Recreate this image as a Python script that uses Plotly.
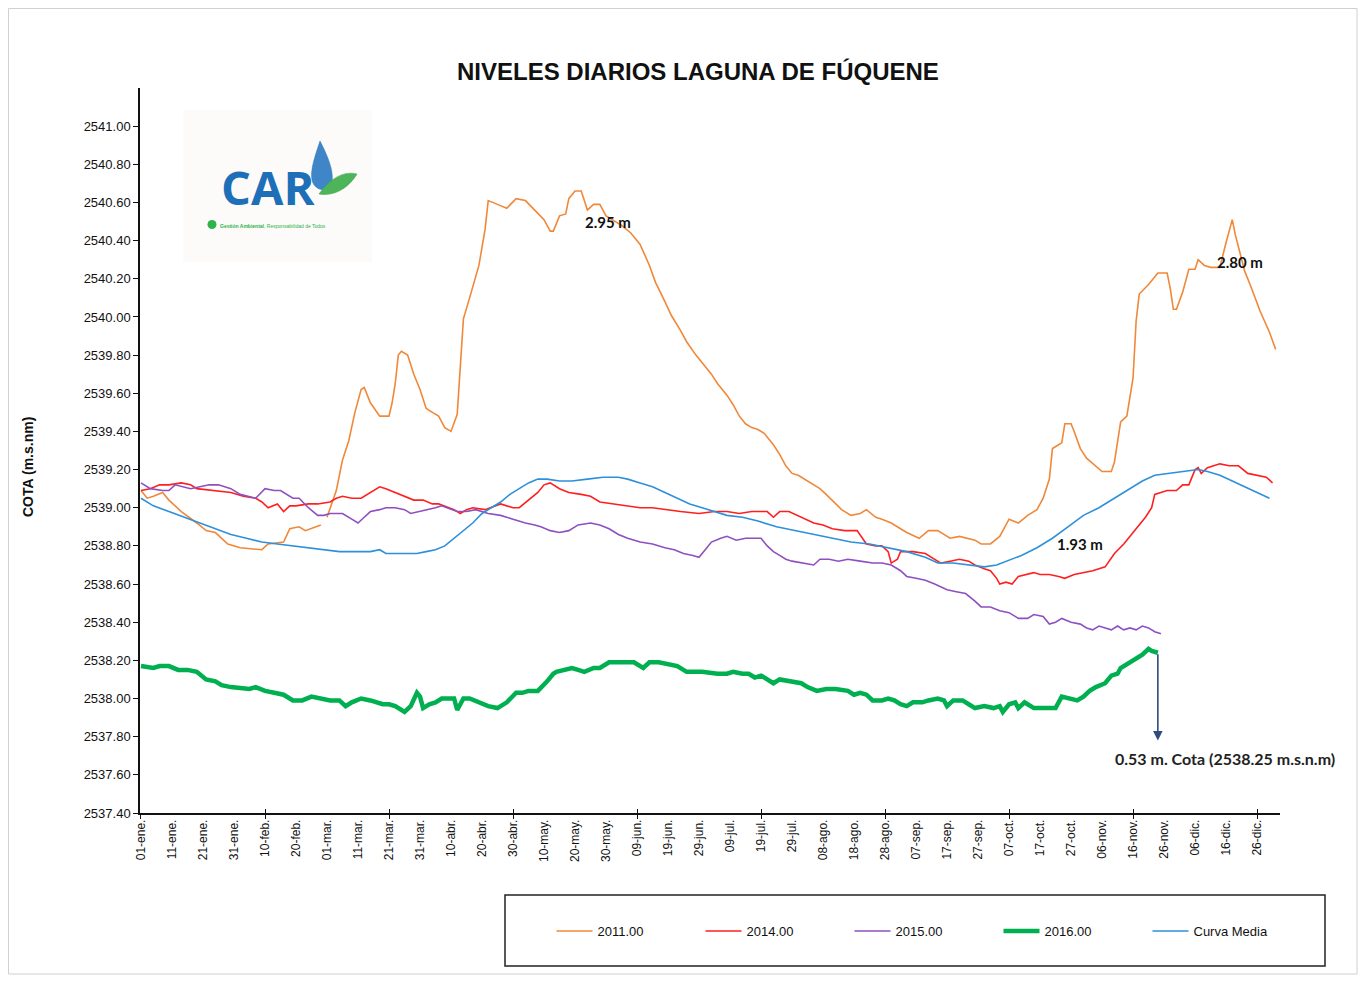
import plotly.graph_objects as go

# ---------------- data ----------------
tick_days = list(range(1, 362, 10))
tick_text = ["01-ene.", "11-ene.", "21-ene.", "31-ene.", "10-feb.", "20-feb.", "01-mar.", "11-mar.",
             "21-mar.", "31-mar.", "10-abr.", "20-abr.", "30-abr.", "10-may.", "20-may.", "30-may.",
             "09-jun.", "19-jun.", "29-jun.", "09-jul.", "19-jul.", "29-jul.", "08-ago.", "18-ago.",
             "28-ago.", "07-sep.", "17-sep.", "27-sep.", "07-oct.", "17-oct.", "27-oct.", "06-nov.",
             "16-nov.", "26-nov.", "06-dic.", "16-dic.", "26-dic."]
y_ticks = [round(2537.4 + 0.2 * i, 2) for i in range(19)]

d2011 = [1, 3, 5, 8, 10, 14, 19, 22, 25, 29, 33, 40, 42, 47, 49, 52, 54, 59, None,
         61, 64, 66, 68, 70, 71, 72, 73, 75, 78, 81, 82, 83, 84, 85, 87, 89, 91, 93, 95, 97, 99, 101, 103,
         105, 107, 110, 112, 113, 116, 119, 122, 125, 128, 131, 133, 134, 136, 138, 139, 141, 143, 145,
         147, 149, 151, 156, 159, 162, 165, 167, 170, 172, 175, 177, 180, 182, 185, 187, 190, 192, 194,
         196, 198, 200, 202, 205, 207, 209, 211, 213, 217, 220, 222, 224, 227, 230, 233, 235, 238, 240,
         243, 246, 248, 252, 255, 258, 262, 265, 268, 270, 272, 275, 278, 281, 284, 287, 290, 292, 294,
         295, 297, 298, 299, 301, 302, 304, 306, 309, 311, 314, 315, 317, 319, 321, 322, 323, 326, 329,
         332, 333, 334, 335, 337, 339, 341, 342, 344, 346, 349, 351, 353, 354, 357, 359, 362, 365, 367]
v2011 = [2539.09, 2539.05, 2539.06, 2539.08, 2539.04, 2538.98, 2538.92, 2538.88, 2538.87, 2538.81,
         2538.79, 2538.78, 2538.81, 2538.82, 2538.89, 2538.90, 2538.88, 2538.91, None,
         2538.95, 2539.09, 2539.25, 2539.35, 2539.50, 2539.56, 2539.62, 2539.63, 2539.55, 2539.48,
         2539.48, 2539.55, 2539.65, 2539.80, 2539.82, 2539.80, 2539.70, 2539.62, 2539.52, 2539.50,
         2539.48, 2539.42, 2539.40, 2539.49, 2539.99, 2540.10, 2540.27, 2540.46, 2540.61, 2540.59,
         2540.57, 2540.62, 2540.61, 2540.56, 2540.51, 2540.45, 2540.45, 2540.53, 2540.54, 2540.62,
         2540.66, 2540.66, 2540.56, 2540.59, 2540.59, 2540.53, 2540.48, 2540.44, 2540.38, 2540.27,
         2540.18, 2540.08, 2540.01, 2539.93, 2539.87, 2539.80, 2539.76, 2539.70, 2539.65, 2539.59,
         2539.54, 2539.48, 2539.44, 2539.42, 2539.41, 2539.39, 2539.33, 2539.28, 2539.22, 2539.18,
         2539.17, 2539.13, 2539.10, 2539.07, 2539.04, 2538.99, 2538.96, 2538.97, 2538.99, 2538.95,
         2538.94, 2538.92, 2538.89, 2538.87, 2538.84, 2538.88, 2538.88, 2538.84, 2538.85, 2538.84,
         2538.83, 2538.81, 2538.81, 2538.85, 2538.94, 2538.92, 2538.96, 2538.99, 2539.05, 2539.15,
         2539.31, 2539.33, 2539.34, 2539.44, 2539.44, 2539.40, 2539.31, 2539.26, 2539.22, 2539.19,
         2539.19, 2539.24, 2539.45, 2539.48, 2539.68, 2539.98, 2540.12, 2540.17, 2540.23, 2540.23,
         2540.15, 2540.04, 2540.04, 2540.13, 2540.25, 2540.25, 2540.30, 2540.27, 2540.26, 2540.26,
         2540.39, 2540.51, 2540.43, 2540.24, 2540.16, 2540.03, 2539.92, 2539.83]

d2014 = [1, 4, 7, 10, 14, 17, 19, 24, 30, 34, 38, 40, 42, 45, 47, 49, 51, 55, 58, 62, 64, 66, 69, 72,
         75, 78, 80, 83, 86, 89, 92, 95, 97, 100, 102, 104, 106, 108, 112, 117, 121, 123, 126, 129, 131,
         133, 136, 139, 143, 146, 149, 153, 157, 162, 166, 170, 175, 181, 186, 190, 194, 198, 200, 203,
         205, 207, 210, 214, 218, 221, 224, 228, 232, 235, 238, 240, 242, 243, 245, 246, 250, 254, 257,
         259, 262, 265, 268, 270, 273, 275, 277, 278, 280, 282, 284, 287, 289, 291, 294, 297, 299, 302,
         305, 308, 312, 315, 318, 321, 323, 325, 327, 328, 330, 332, 335, 337, 339, 341, 342, 343, 345,
         347, 349, 352, 355, 358, 361, 364, 366]
v2014 = [2539.09, 2539.10, 2539.12, 2539.12, 2539.13, 2539.12, 2539.10, 2539.09, 2539.08, 2539.06,
         2539.05, 2539.03, 2539.00, 2539.02, 2538.98, 2539.01, 2539.01, 2539.02, 2539.02, 2539.03,
         2539.05, 2539.06, 2539.05, 2539.05, 2539.08, 2539.11, 2539.10, 2539.08, 2539.06, 2539.04,
         2539.04, 2539.02, 2539.02, 2539.00, 2538.99, 2538.97, 2538.99, 2539.00, 2538.99, 2539.02,
         2539.00, 2539.00, 2539.04, 2539.08, 2539.12, 2539.13, 2539.10, 2539.08, 2539.07, 2539.06,
         2539.03, 2539.02, 2539.01, 2539.00, 2539.00, 2538.99, 2538.98, 2538.97, 2538.98, 2538.98,
         2538.97, 2538.98, 2538.98, 2538.98, 2538.95, 2538.98, 2538.98, 2538.95, 2538.92, 2538.91,
         2538.89, 2538.88, 2538.88, 2538.81, 2538.80, 2538.80, 2538.77, 2538.71, 2538.73, 2538.77,
         2538.77, 2538.76, 2538.73, 2538.71, 2538.72, 2538.73, 2538.72, 2538.70, 2538.68, 2538.67,
         2538.63, 2538.60, 2538.61, 2538.60, 2538.64, 2538.65, 2538.66, 2538.65, 2538.65, 2538.64,
         2538.63, 2538.65, 2538.66, 2538.67, 2538.69, 2538.76, 2538.81, 2538.87, 2538.91, 2538.95,
         2539.00, 2539.07, 2539.08, 2539.09, 2539.09, 2539.12, 2539.12, 2539.20, 2539.21, 2539.18,
         2539.21, 2539.22, 2539.23, 2539.22, 2539.22, 2539.18, 2539.17, 2539.16, 2539.13]

d2015 = [1, 4, 8, 10, 12, 15, 17, 20, 23, 26, 30, 33, 36, 38, 41, 44, 46, 48, 50, 52, 55, 58, 60, 62,
         66, 69, 71, 73, 75, 78, 80, 83, 86, 88, 91, 94, 96, 98, 101, 103, 106, 109, 113, 117, 121, 125,
         128, 130, 133, 136, 139, 142, 146, 149, 152, 155, 158, 162, 166, 170, 173, 176, 179, 181, 183,
         185, 188, 190, 193, 196, 199, 201, 203, 205, 207, 209, 211, 214, 218, 220, 223, 226, 229, 233,
         237, 240, 243, 246, 248, 251, 254, 257, 261, 264, 267, 270, 272, 275, 278, 281, 284, 287, 289,
         292, 294, 296, 298, 301, 304, 306, 308, 310, 312, 314, 316, 318, 320, 322, 324, 326, 328, 330]
v2015 = [2539.13, 2539.10, 2539.09, 2539.09, 2539.12, 2539.11, 2539.10, 2539.11, 2539.12, 2539.12,
         2539.10, 2539.07, 2539.06, 2539.05, 2539.10, 2539.09, 2539.09, 2539.07, 2539.05, 2539.05,
         2539.00, 2538.96, 2538.96, 2538.97, 2538.97, 2538.94, 2538.92, 2538.95, 2538.98, 2538.99,
         2539.00, 2539.00, 2538.99, 2538.97, 2538.98, 2538.99, 2539.00, 2539.01, 2538.99, 2538.98,
         2538.98, 2538.99, 2538.97, 2538.96, 2538.94, 2538.92, 2538.91, 2538.90, 2538.88, 2538.87,
         2538.88, 2538.91, 2538.92, 2538.91, 2538.89, 2538.86, 2538.84, 2538.82, 2538.81, 2538.79,
         2538.78, 2538.76, 2538.75, 2538.74, 2538.78, 2538.82, 2538.84, 2538.85, 2538.83, 2538.84,
         2538.84, 2538.84, 2538.80, 2538.77, 2538.75, 2538.73, 2538.72, 2538.71, 2538.70, 2538.73,
         2538.73, 2538.72, 2538.73, 2538.72, 2538.71, 2538.71, 2538.70, 2538.67, 2538.64, 2538.63,
         2538.62, 2538.60, 2538.57, 2538.56, 2538.55, 2538.51, 2538.48, 2538.48, 2538.46, 2538.45,
         2538.42, 2538.42, 2538.44, 2538.43, 2538.39, 2538.40, 2538.42, 2538.40, 2538.39, 2538.37,
         2538.36, 2538.38, 2538.37, 2538.36, 2538.38, 2538.36, 2538.37, 2538.36, 2538.38, 2538.37,
         2538.35, 2538.34]

d2016 = [1, 5, 7, 10, 13, 16, 19, 22, 25, 27, 30, 34, 36, 38, 41, 44, 47, 50, 53, 56, 59, 62, 65, 67,
         69, 72, 75, 79, 81, 83, 86, 88, 90, 91, 92, 94, 96, 98, 100, 102, 103, 105, 107, 110, 113, 116,
         119, 122, 124, 126, 129, 132, 134, 135, 137, 140, 142, 144, 147, 149, 152, 156, 160, 163, 165,
         168, 171, 174, 177, 182, 187, 190, 192, 195, 197, 199, 201, 203, 205, 207, 210, 214, 216, 219,
         222, 225, 229, 231, 233, 235, 237, 240, 242, 244, 246, 248, 250, 253, 255, 258, 260, 261, 263,
         266, 268, 270, 273, 276, 278, 279, 281, 283, 284, 286, 287, 289, 291, 294, 296, 298, 300, 303,
         305, 307, 309, 311, 312, 314, 316, 317, 319, 320, 322, 324, 326, 327, 329]
v2016 = [2538.17, 2538.16, 2538.17, 2538.17, 2538.15, 2538.15, 2538.14, 2538.10, 2538.09, 2538.07,
         2538.06, 2538.05, 2538.05, 2538.06, 2538.04, 2538.03, 2538.02, 2537.99, 2537.99, 2538.01,
         2538.00, 2537.99, 2537.99, 2537.96, 2537.98, 2538.00, 2537.99, 2537.97, 2537.97, 2537.96,
         2537.93, 2537.96, 2538.03, 2538.01, 2537.95, 2537.97, 2537.98, 2538.00, 2538.00, 2538.00,
         2537.94, 2538.00, 2538.00, 2537.98, 2537.96, 2537.95, 2537.98, 2538.03, 2538.03, 2538.04,
         2538.04, 2538.09, 2538.13, 2538.14, 2538.15, 2538.16, 2538.15, 2538.14, 2538.16, 2538.16,
         2538.19, 2538.19, 2538.19, 2538.16, 2538.19, 2538.19, 2538.18, 2538.17, 2538.14, 2538.14,
         2538.13, 2538.13, 2538.14, 2538.13, 2538.13, 2538.11, 2538.12, 2538.10, 2538.08, 2538.10,
         2538.09, 2538.08, 2538.06, 2538.04, 2538.05, 2538.05, 2538.04, 2538.02, 2538.03, 2538.02,
         2537.99, 2537.99, 2538.00, 2537.99, 2537.97, 2537.96, 2537.98, 2537.98, 2537.99, 2538.00,
         2537.99, 2537.96, 2537.99, 2537.99, 2537.97, 2537.95, 2537.96, 2537.95, 2537.96, 2537.93,
         2537.97, 2537.98, 2537.95, 2537.98, 2537.97, 2537.95, 2537.95, 2537.95, 2537.95, 2538.01,
         2538.00, 2537.99, 2538.01, 2538.04, 2538.06, 2538.07, 2538.08, 2538.12, 2538.13, 2538.16,
         2538.18, 2538.19, 2538.21, 2538.23, 2538.26, 2538.25, 2538.24]

dmedia = [1, 5, 10, 15, 20, 25, 30, 35, 40, 45, 50, 55, 60, 65, 70, 75, 78, 80, 85, 90, 93, 96, 99,
          102, 105, 108, 111, 114, 117, 120, 123, 126, 129, 132, 136, 140, 145, 150, 155, 158, 162, 166,
          170, 174, 178, 182, 186, 190, 195, 200, 206, 212, 218, 224, 230, 236, 242, 248, 254, 258, 263,
          268, 273, 277, 280, 285, 290, 295, 300, 305, 310, 315, 320, 324, 328, 333, 338, 342, 345, 349,
          353, 357, 361, 365]
vmedia = [2539.05, 2539.01, 2538.98, 2538.95, 2538.92, 2538.89, 2538.86, 2538.84, 2538.82, 2538.81,
          2538.80, 2538.79, 2538.78, 2538.77, 2538.77, 2538.77, 2538.78, 2538.76, 2538.76, 2538.76,
          2538.77, 2538.78, 2538.80, 2538.84, 2538.88, 2538.92, 2538.97, 2539.00, 2539.03, 2539.07,
          2539.10, 2539.13, 2539.15, 2539.15, 2539.14, 2539.14, 2539.15, 2539.16, 2539.16, 2539.15,
          2539.13, 2539.11, 2539.08, 2539.05, 2539.02, 2539.00, 2538.98, 2538.96, 2538.95, 2538.93,
          2538.90, 2538.88, 2538.86, 2538.84, 2538.82, 2538.81, 2538.79, 2538.77, 2538.74, 2538.71,
          2538.71, 2538.70, 2538.69, 2538.70, 2538.72, 2538.75, 2538.79, 2538.84, 2538.90, 2538.96,
          2539.00, 2539.05, 2539.10, 2539.14, 2539.17, 2539.18, 2539.19, 2539.20, 2539.19, 2539.17,
          2539.14, 2539.11, 2539.08, 2539.05]

# ---------------- layout helpers (screen pixel -> paper) ----------------
OFF = 8                      # page body margin in the browser
FW, FH = 1366 - 2 * OFF, 983 - 2 * OFF
PL, PR, PT, PB = 140, 1280, 88, 813   # plot area in screen pixels


def px(x):
    return (x - PL) / (PR - PL)


def py(y):
    return (PB - y) / (PB - PT)


def path(cmds):
    out = []
    for c in cmds:
        if isinstance(c, str):
            out.append(c)
        else:
            out.append(f"{px(c[0]):.5f},{py(c[1]):.5f}")
    return " ".join(out)


TXT = "Liberation Sans, Arial, sans-serif"

fig = go.Figure()
series = [
    ("2011.00", d2011, v2011, "#F0883A", 1.6),
    ("2014.00", d2014, v2014, "#FF1F1F", 1.6),
    ("2015.00", d2015, v2015, "#8E4FBF", 1.6),
    ("2016.00", d2016, v2016, "#00B050", 4.5),
    ("Curva Media", dmedia, vmedia, "#2E90DA", 1.6),
]
for name, d, v, col, w in series:
    fig.add_trace(go.Scatter(x=d, y=v, name=name, mode="lines", connectgaps=False,
                             line=dict(color=col, width=w)))

# dummy traces to display the tick-mark axes
fig.add_trace(go.Scatter(x=[1], y=[None], xaxis="x2", showlegend=False, hoverinfo="skip"))
fig.add_trace(go.Scatter(x=[1], y=[None], xaxis="x3", showlegend=False, hoverinfo="skip"))

xr = [0.68, 368.4]
major_days = tick_days[::4]

shapes = [
    # outer chart border
    dict(type="rect", xref="paper", yref="paper", x0=px(8.5), x1=px(1357), y0=py(8.5), y1=py(974),
         line=dict(color="#D0D0D0", width=1), layer="below"),
    # legend box
    dict(type="rect", xref="paper", yref="paper", x0=px(505), x1=px(1325), y0=py(895), y1=py(966),
         line=dict(color="#222222", width=1.5)),
    # logo background
    dict(type="rect", xref="paper", yref="paper", x0=px(183), x1=px(372), y0=py(110), y1=py(262),
         line=dict(width=0), fillcolor="#FCFBF9", layer="below"),
    # water drop
    dict(type="path", xref="paper", yref="paper",
         path=path(["M", (320, 141), "C", (315, 156), (310, 170), (312, 180), "C", (314, 190), (326, 193),
                    (331, 185), "C", (335, 176), (330, 160), (320, 141), "Z"]),
         fillcolor="#3F86C8", line=dict(color="#2F73B5", width=0.5)),
    # leaf
    dict(type="path", xref="paper", yref="paper",
         path=path(["M", (319, 194), "C", (328, 181), (342, 170), (357, 174), "C", (350, 186), (336, 197),
                    (319, 194), "Z"]),
         fillcolor="#4DB45A", line=dict(color="#3DA04A", width=0.5)),
    # green dot
    dict(type="circle", xref="paper", yref="paper", x0=px(207.5), x1=px(216.5), y0=py(220), y1=py(229),
         fillcolor="#2DB34A", line=dict(width=0)),
]

annotations = [
    dict(text="<b>NIVELES DIARIOS LAGUNA DE FÚQUENE</b>", xref="paper", yref="paper",
         x=px(698), y=py(71), showarrow=False, xanchor="center", yanchor="middle",
         font=dict(family="Liberation Sans, Arial, sans-serif", size=24, color="#111111")),
    dict(text="<b>COTA (m.s.nm)</b>", xref="paper", yref="paper", x=px(28), y=py(467),
         textangle=-90, showarrow=False, xanchor="center", yanchor="middle",
         font=dict(family=TXT, size=14, color="#111111")),
    dict(text="<b>CAR</b>", xref="paper", yref="paper", x=px(268), y=py(221), showarrow=False,
         xanchor="center", yanchor="bottom",
         font=dict(family="Open Sans, Liberation Sans, sans-serif", size=47, color="#1D6FB8")),
    dict(text="<b>Gestión Ambiental</b>, Responsabilidad de Todos", xref="paper", yref="paper",
         x=px(218), y=py(221.5), showarrow=False, xanchor="left", yanchor="top",
         font=dict(family="Liberation Sans, sans-serif", size=5, color="#2DB34A")),
    dict(text="<b>2.95 m</b>", x=151.5, y=2540.50, showarrow=False, xanchor="center", yanchor="middle",
         font=dict(family="Lato, Open Sans, sans-serif", size=15, color="#111111")),
    dict(text="<b>2.80 m</b>", x=355.5, y=2540.29, showarrow=False, xanchor="center", yanchor="middle",
         font=dict(family="Lato, Open Sans, sans-serif", size=15, color="#111111")),
    dict(text="<b>1.93 m</b>", x=304, y=2538.81, showarrow=False, xanchor="center", yanchor="middle",
         font=dict(family="Lato, Open Sans, sans-serif", size=15, color="#111111")),
    dict(text="<b>0.53 m. Cota (2538.25 m.s.n.m)</b>", xref="paper", yref="paper", x=px(1225), y=py(758),
         showarrow=False, xanchor="center", yanchor="middle",
         font=dict(family="Lato, Open Sans, sans-serif", size=16, color="#222222")),
    dict(text="", x=329, y=2537.78, ax=329, ay=2538.24, axref="x", ayref="y", showarrow=True,
         arrowhead=2, arrowsize=1.2, arrowwidth=1.6, arrowcolor="#2F4C7E"),
]

fig.update_layout(
    width=FW, height=FH,
    margin=dict(l=PL - OFF, r=FW - (PR - OFF), t=PT - OFF, b=FH - (PB - OFF)),
    paper_bgcolor="white", plot_bgcolor="white",
    showlegend=True,
    legend=dict(orientation="h", x=px(924), y=py(931), xanchor="center", yanchor="middle",
                entrywidth=98, entrywidthmode="pixels", itemwidth=36,
                font=dict(family=TXT, size=13, color="#111111"), bgcolor="rgba(0,0,0,0)",
                tracegroupgap=0),
    xaxis=dict(range=xr, tickmode="array", tickvals=tick_days, ticktext=tick_text, tickangle=-90,
               ticks="", showgrid=False, zeroline=False, showline=True, linecolor="#111111", linewidth=1.5,
               tickfont=dict(family=TXT, size=12, color="#111111")),
    xaxis2=dict(range=xr, overlaying="x", anchor="y", side="bottom", tickmode="array", tickvals=major_days,
                ticks="outside", ticklen=5, tickcolor="#111111", tickwidth=1.2, showticklabels=False,
                showgrid=False, zeroline=False, showline=False),
    xaxis3=dict(range=xr, overlaying="x", anchor="y", side="bottom", tickmode="array", tickvals=major_days,
                ticks="inside", ticklen=4, tickcolor="#111111", tickwidth=1.2, showticklabels=False,
                showgrid=False, zeroline=False, showline=False),
    yaxis=dict(range=[2537.4, 2541.2], tickmode="array", tickvals=y_ticks, tickformat=".2f",
               ticks="outside", ticklen=5, tickcolor="#111111", showgrid=False, zeroline=False,
               showline=True, linecolor="#111111", linewidth=1.5,
               tickfont=dict(family=TXT, size=13, color="#111111")),
    shapes=shapes,
    annotations=annotations,
)

fig.write_html("out.html")
